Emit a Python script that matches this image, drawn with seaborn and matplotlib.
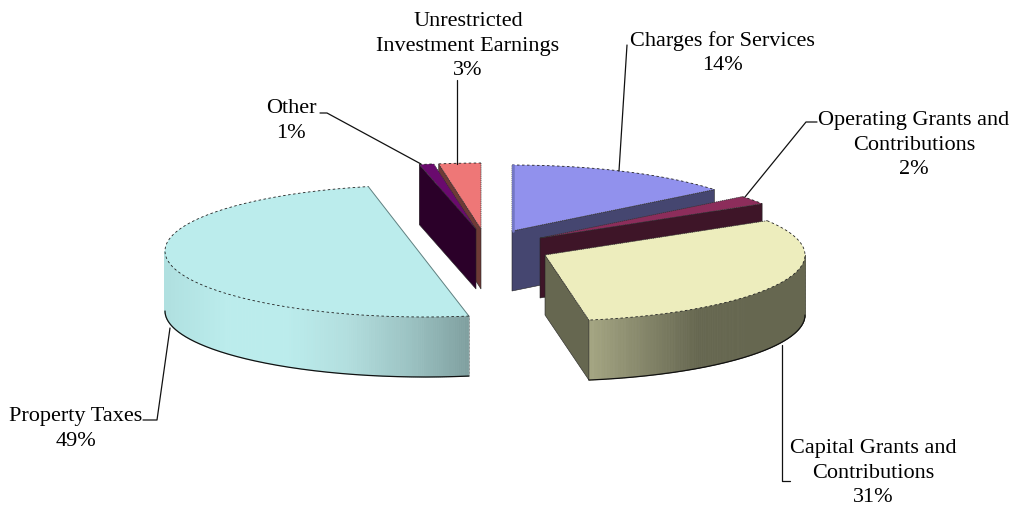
import numpy as np
import matplotlib
matplotlib.use("Agg")
import matplotlib.pyplot as plt
from matplotlib.collections import PolyCollection
import seaborn as sns

# data (clockwise from 12 o'clock)
categories = ["Charges for Services", "Operating Grants and\nContributions",
              "Capital Grants and\nContributions", "Property Taxes", "Other",
              "Unrestricted\nInvestment Earnings"]
shares = [14.2, 2.1, 31.0, 49.2, 0.9, 2.6]

# styles
top_colors = ["#9191ED", "#8C2D5B", "#EDEDBD", "#BBECEC", "#6A0A6E", "#EE7777"]
cut_colors = ["#454670", "#3E1528", "#666750", "#7F9F9F", "#2B0029", "#6E3A36"]
wall_stops = {
    2: ["#A4A582", "#85866A", "#666750", "#666750", "#666750"],
    3: ["#B0E0E0", "#BBECEC", "#BBECEC", "#B2DEDE", "#9CC3C3", "#7F9F9F"],
}

# layout (pixels)
RX, RY, DEPTH = 260, 66, 60
apex = [(512, 231), (540, 238), (545, 255), (425, 251), (476, 229), (481, 229)]
draw_order = [5, 4, 0, 1, 2, 3]
label_xy = [(722, 53), (914, 145), (873, 473), (76, 429), (291, 121), (468, 46)]
leaders = [
    [(627, 45), (619, 171)],
    [(817, 122), (806, 122), (745, 197)],
    [(790, 481), (782, 481), (782, 345)],
    [(143, 420), (157, 420), (170, 328)],
    [(320, 113), (327, 113), (421, 164)],
    [(457, 80), (457, 164)],
]

sns.set_theme(style="white")
plt.rcParams["font.family"] = ["Liberation Serif", "DejaVu Serif"]

fig = plt.figure(figsize=(10.17, 5.08), dpi=100, facecolor="white")
ax = fig.add_axes([0, 0, 1, 1])
ax.set_xlim(0, 1017)
ax.set_ylim(508, 0)
ax.axis("off")

edges = np.cumsum([0] + shares) / sum(shares) * 360


def rim(center, deg):
    t = np.radians(deg)
    return center[0] + RX * np.sin(t), center[1] - RY * np.cos(t)


for order, i in enumerate(draw_order):
    a0, a1 = edges[i], edges[i + 1]
    c = apex[i]
    z = 2 + order * 3
    th = np.linspace(a0, a1, 240)
    rx, ry = rim(c, th)

    # outer wall: the part of the rim on the near side of the pie
    if i in wall_stops:
        pal = sns.blend_palette(wall_stops[i], 200)
        wt = np.linspace(max(a0, 90), min(a1, 270), 221)
        wx, wy = rim(c, wt)
        polys, cols = [], []
        for k in range(len(wt) - 1):
            polys.append([(wx[k], wy[k]), (wx[k + 1], wy[k + 1]),
                          (wx[k + 1], wy[k + 1] + DEPTH), (wx[k], wy[k] + DEPTH)])
            f = (0.5 * (wx[k] + wx[k + 1]) - wx.min()) / (wx.max() - wx.min())
            cols.append(pal[int(f * 199)])
        ax.add_collection(PolyCollection(polys, facecolors=cols, edgecolors=cols,
                                         linewidths=0.6, zorder=z))
        ax.plot(wx, wy + DEPTH, color="#111111", lw=0.9, zorder=z + 1)
        ax.plot([wx[0], wx[0]], [wy[0], wy[0] + DEPTH], color="#555555", lw=0.5,
                ls=(0, (1, 1)), zorder=z + 1)

    # visible cut face
    face_ang = {0: a1, 1: a1, 2: a1, 4: a0, 5: a0}.get(i)
    if face_ang is not None:
        px, py = rim(c, face_ang)
        ax.fill([c[0], px, px, c[0]], [c[1], py, py + DEPTH, c[1] + DEPTH],
                facecolor=cut_colors[i], edgecolor="#222222", lw=0.4, zorder=z)

    # top surface (the near-half property slice closes along its chord)
    if i == 3:
        tx, ty = rx, ry
        ax.plot([rx[-1], rx[0]], [ry[-1], ry[0]], color="#5F8080", lw=0.7, zorder=z + 2)
    else:
        tx, ty = np.r_[c[0], rx], np.r_[c[1], ry]
        ax.plot([rx[-1], c[0], rx[0]], [ry[-1], c[1], ry[0]], color="#333333",
                lw=0.5, ls=(0, (2, 1)), zorder=z + 2)
    ax.fill(tx, ty, facecolor=top_colors[i], edgecolor="none", zorder=z + 1)
    ax.plot(rx, ry, color="#222222", lw=0.6, ls=(0, (3, 3)), zorder=z + 2)

# lighter strip on the charges slice's start edge
ax.plot([apex[0][0] + 1, apex[0][0] + 1], [apex[0][1] - RY, apex[0][1]],
        color="#7377C4", lw=1.8, zorder=30)

for line in leaders:
    xs, ys = zip(*line)
    ax.plot(xs, ys, color="#111111", lw=0.9, zorder=40)

for cat, val, (x, y) in zip(categories, shares, label_xy):
    ax.text(x, y, f"{cat}\n{round(val)}%", ha="center", va="center", ma="center",
            fontsize=16, color="black", linespacing=1.42, zorder=50)

fig.savefig("out.png", dpi=100, facecolor="white")
